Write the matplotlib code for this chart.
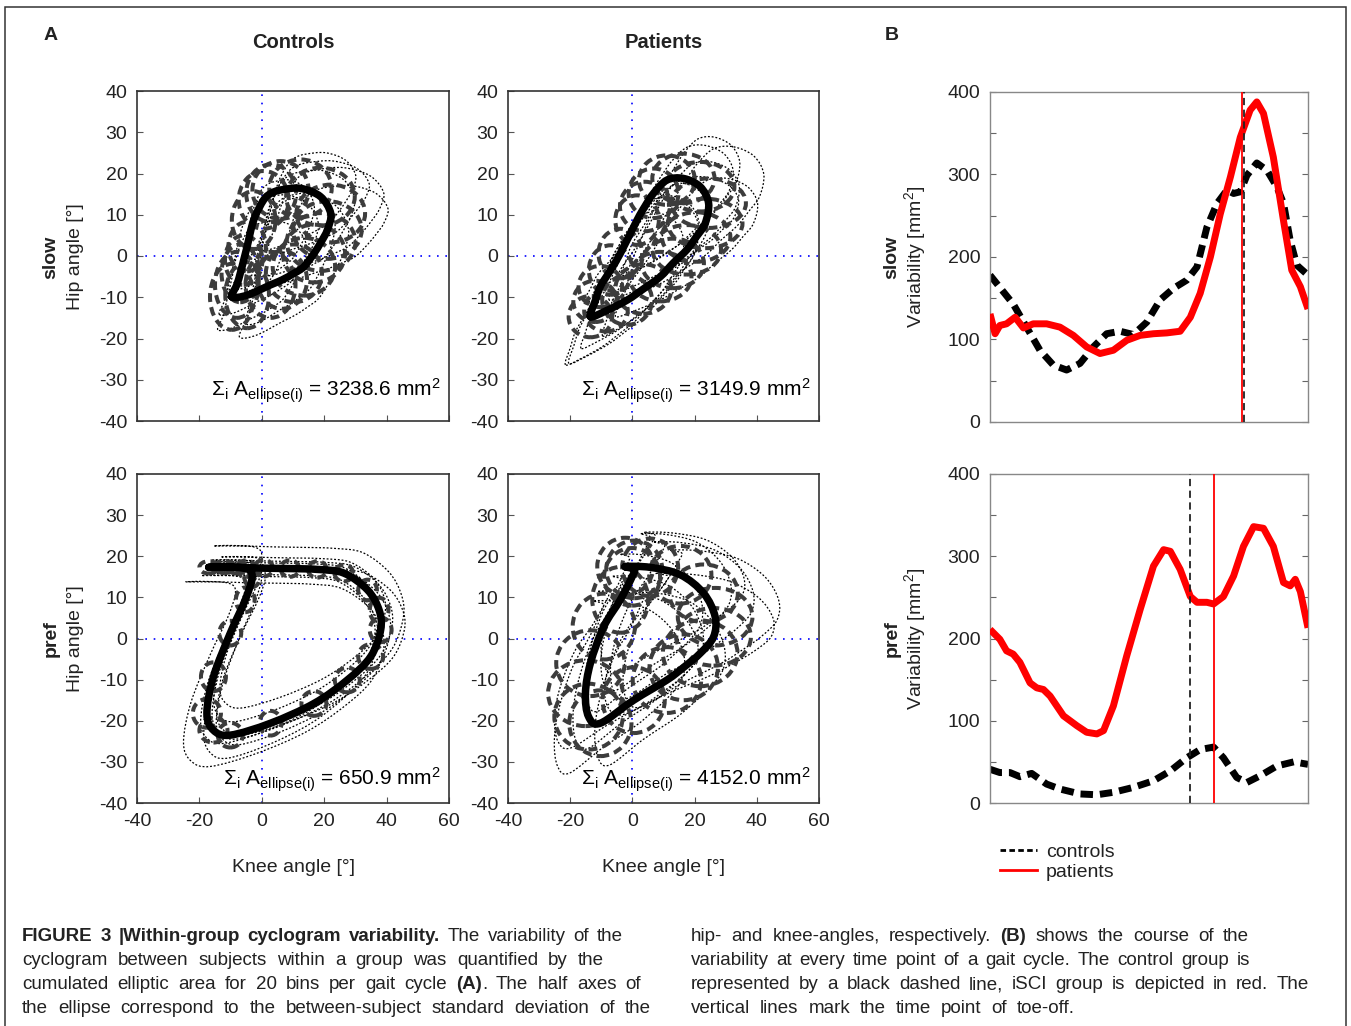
import numpy as np
import matplotlib
matplotlib.use("Agg")
import matplotlib.pyplot as plt
from matplotlib.path import Path
from matplotlib.patches import PathPatch, Ellipse, Rectangle
from matplotlib.lines import Line2D

plt.rcParams["font.family"] = ["Liberation Sans", "DejaVu Sans"]
plt.rcParams["mathtext.fontset"] = "custom"
plt.rcParams["mathtext.rm"] = "Liberation Sans"
plt.rcParams["mathtext.it"] = "Liberation Sans:italic"
plt.rcParams["mathtext.bf"] = "Liberation Sans:bold"
plt.rcParams["axes.unicode_minus"] = False

# ---------------- data ----------------
# mean cyclograms (knee, hip) in degrees, points along the loop (= ellipse centres)
cs_knee = [-9.6, -8.0, -6.9, -5.8, -4.7, -2.6, 0.6, 3.0, 6.0, 12.4, 18.8, 22.1, 21.0, 19.0,
           16.7, 13.5, 10.3, 6.5, 2.8, -4.7]
cs_hip = [-9.9, -7.0, -4.2, -1.0, 2.3, 8.7, 13.6, 15.2, 16.0, 16.4, 14.4, 10.3, 6.3, 3.4,
          0.6, -2.6, -4.2, -5.8, -7.0, -9.5]
cs_sd_knee = [7, 7, 6, 6, 6, 7, 8, 8, 9, 10, 11, 11, 11, 11, 10, 10, 9, 8, 8, 7]
cs_sd_hip = [8, 8, 7, 6, 6, 7, 7, 7, 7, 7, 7, 7, 7, 7, 7, 7, 7, 7, 8, 8]

ps_knee = [-13.5, -12.0, -10.3, -7.0, -3.9, 1.5, 4.0, 6.8, 11.1, 16.4, 21.8, 24.5, 23.4, 20.5,
           17.5, 13.0, 9.0, 3.5, -1.7, -8.5]
ps_hip = [-14.7, -11.0, -7.4, -3.4, 0.6, 8.7, 12.0, 15.2, 18.4, 18.8, 16.8, 12.8, 7.9, 4.6,
          1.5, -1.8, -5.0, -8.0, -10.7, -13.3]
ps_sd_knee = [7, 7, 7, 7, 7, 7, 8, 8, 9, 10, 11, 12, 12, 11, 11, 10, 10, 9, 8, 7]
ps_sd_hip = [5, 5, 5, 6, 6, 6, 6, 6, 6, 6, 6, 6, 6, 6, 6, 6, 6, 6, 6, 5]

cp_knee = [-17.0, -8.0, 0.6, 9.0, 17.8, 26.3, 33.9, 37.6, 38.1, 34.9, 27.4, 16.7, 2.8,
           -10.1, -15.5, -17.6, -15.5, -10.1, -5.3, -3.1, -5.0, -12.0]
cp_hip = [17.3, 17.3, 17.1, 17.0, 16.8, 15.9, 11.8, 6.9, 2.1, -4.4, -10.1, -15.8, -20.6,
          -23.5, -22.3, -18.2, -9.3, 1.3, 9.4, 15.0, 17.0, 17.4]
cp_sd_knee = [3, 3, 3, 3, 3, 3, 3, 3, 3.5, 4, 4, 4, 3.5, 4, 4.5, 4.5, 4, 3.5, 3, 2.5, 3, 3]
cp_sd_hip = [1.5, 1.5, 2, 2, 2, 2, 2.5, 3, 3, 3, 3, 3, 3, 3, 3, 3.5, 3.5, 3, 3, 2.5, 2, 1.5]

pp_knee = [-2.3, 5.7, 15.4, 22.9, 26.6, 26.1, 21.8, 16.5, 11.1, 0.4, -10.3, -14.1, -15.1,
           -13.5, -9.2, -3.9, -0.1, 0.6]
pp_hip = [17.5, 17.3, 15.5, 11.0, 5.3, 0.4, -3.6, -7.0, -10.1, -15.0, -20.6, -19.0, -13.3,
          -6.0, 2.9, 9.4, 15.0, 16.8]
pp_sd_knee = [9, 9, 10, 11, 12, 12, 12, 11, 11, 10, 10, 11, 12, 11, 10, 9, 9, 9]
pp_sd_hip = [7, 7, 7, 7, 7, 7, 8, 8, 8, 8, 8, 8, 8, 8, 8, 8, 7, 7]

# single subjects: shift (knee, hip) and scale (knee, hip) relative to the mean loop
cs_subj_dk = [6, 12, 3, -4, 9, -2, 15, 4, -6, 8]
cs_subj_dh = [3, 5, -4, -3, 8, 2, 2, -6, -8, 10]
cs_subj_sk = [1.1, 1.3, 0.9, 1.0, 1.2, 0.8, 1.2, 1.1, 0.9, 1.0]
cs_subj_sh = [1.1, 1.0, 1.2, 1.1, 0.9, 1.0, 0.9, 1.3, 1.0, 0.9]

ps_subj_dk = [8, 14, -3, 4, 10, -5, 2, 12, -8, 6]
ps_subj_dh = [4, 6, -6, 2, 10, -8, -3, 0, -10, 8]
ps_subj_sk = [1.1, 1.2, 1.0, 1.3, 1.0, 1.1, 0.9, 1.2, 1.0, 1.1]
ps_subj_sh = [1.0, 1.1, 1.1, 0.9, 1.0, 1.2, 1.1, 1.0, 1.1, 1.0]

cp_subj_dk = [2, 4, -2, 3, -4, 1, 5, -1, 3]
cp_subj_dh = [1, 3, -2, -1, -5, 2, 0, -3, 4]
cp_subj_sk = [1.05, 1.1, 1.0, 1.0, 1.15, 0.95, 1.08, 1.0, 0.95]
cp_subj_sh = [1.05, 1.15, 1.0, 1.05, 1.1, 0.95, 1.0, 1.1, 0.9]

pp_subj_dk = [10, 16, -4, 5, -8, 3, 12, -2, -10, 7]
pp_subj_dh = [6, 4, -4, 8, -6, -8, 0, 3, -10, 10]
pp_subj_sk = [1.1, 1.2, 1.0, 1.0, 1.1, 1.0, 1.3, 0.9, 1.0, 1.1]
pp_subj_sh = [1.0, 1.0, 1.1, 1.0, 1.0, 1.1, 0.9, 1.0, 1.1, 0.9]

areas = ["3238.6", "3149.9", "650.9", "4152.0"]

# variability over the gait cycle [% cycle, mm^2]
slow_ctrl_t = [0, 7.3, 11.5, 15.7, 19.9, 24.1, 28.3, 32.5, 36.7, 40.9, 45.1, 49.3, 53.5, 57.7,
               61.9, 65.1, 68.2, 71.4, 74.5, 76.6, 78.7, 80.8, 83.9, 87.1, 90.2, 92.3, 94.4,
               96.5, 100]
slow_ctrl_v = [178, 143, 115, 87, 69, 63, 71, 91, 107, 110, 106, 121, 148, 162, 172, 188, 236,
               265, 281, 277, 279, 299, 314, 305, 285, 265, 220, 190, 178]
slow_pat_t = [0, 1.6, 3.1, 5.2, 7.9, 10.5, 13.6, 17.8, 22.0, 26.2, 30.4, 34.6, 38.8, 43.0,
              47.2, 51.4, 55.6, 59.8, 63.0, 66.1, 69.3, 72.4, 75.6, 78.7, 81.8, 83.9, 86.0,
              89.1, 92.3, 94.9, 97.6, 100]
slow_pat_v = [131, 107, 117, 119, 127, 114, 119, 119, 115, 105, 91, 83, 87, 99, 105, 107, 108,
              110, 127, 156, 200, 252, 297, 345, 378, 388, 374, 321, 244, 184, 164, 137]
slow_toe_ctrl = 80.0
slow_toe_pat = 79.4

pref_ctrl_t = [0, 3.1, 6.3, 9.4, 13.1, 17.8, 22.0, 28.3, 33.6, 38.8, 45.1, 51.4, 56.7, 61.9,
               66.1, 70.3, 73.4, 77.6, 80.8, 84.9, 90.2, 95.5, 100]
pref_ctrl_v = [41, 37, 37, 32, 36, 23, 17, 11, 10, 13, 19, 27, 39, 55, 65, 68, 55, 31, 25, 33,
               45, 50, 47]
pref_pat_t = [0, 3.1, 5.2, 7.3, 9.4, 12.6, 14.7, 16.8, 18.9, 23.1, 27.3, 30.4, 33.6, 35.7, 38.8,
              43.0, 47.2, 51.4, 54.6, 56.7, 59.8, 63.0, 65.1, 68.2, 70.3, 73.4, 76.6, 79.7,
              82.9, 86.0, 89.1, 92.3, 94.4, 96.0, 97.6, 100]
pref_pat_v = [211, 199, 185, 181, 171, 146, 140, 138, 130, 106, 94, 86, 84, 88, 118, 179, 235,
              288, 308, 306, 284, 251, 244, 244, 242, 251, 276, 312, 336, 334, 312, 268, 264,
              272, 257, 213]
pref_toe_ctrl = 63.0
pref_toe_pat = 70.5

caption_left = [
    "**FIGURE** **3** **|Within-group** **cyclogram** **variability.** The variability of the",
    "cyclogram between subjects within a group was quantified by the",
    "cumulated elliptic area for 20 bins per gait cycle **(A)**. The half axes of",
    "the ellipse correspond to the between-subject standard deviation of the",
]
caption_right = [
    "hip- and knee-angles, respectively. **(B)** shows the course of the",
    "variability at every time point of a gait cycle. The control group is",
    "represented by a black dashed line, iSCI group is depicted in red. The",
    "vertical lines mark the time point of toe-off.",
]
caption_left_end = [623, 604, 641, 651]
caption_right_end = [1249, 1250, 1309, 1075]

# ---------------- figure ----------------
W, H = 1351, 1026
fig = plt.figure(figsize=(W / 100, H / 100), dpi=100)
TXT = "#222222"
CAP = 13.5


def px_axes(l, t, r, b):
    return fig.add_axes([l / W, 1 - b / H, (r - l) / W, (b - t) / H])


def fig_text(x, y, s, **kw):
    return fig.text(x / W, 1 - y / H, s, color=TXT, **kw)


def smooth_loop(x, y):
    # closed curve through the read points (Catmull-Rom drawn as cubic Bezier)
    p = np.column_stack([x, y]).astype(float)
    n = len(p)
    verts = [p[0]]
    codes = [Path.MOVETO]
    for i in range(n):
        p0, p1, p2, p3 = p[i - 1], p[i], p[(i + 1) % n], p[(i + 2) % n]
        verts += [p1 + (p2 - p0) / 6, p2 - (p3 - p1) / 6, p2]
        codes += [Path.CURVE4] * 3
    return Path(np.array(verts), codes)


def cyclogram(ax, knee, hip, sdk, sdh, dk, dh, sk, sh, area, bottom):
    ax.set_xlim(-40, 60)
    ax.set_ylim(-40, 40)
    ax.axvline(0, color="blue", lw=1.2, ls=(0, (1, 4)), zorder=1)
    ax.axhline(0, color="blue", lw=1.2, ls=(0, (1, 4)), zorder=1)
    base = smooth_loop(knee, hip)
    ck, ch = np.mean(knee), np.mean(hip)
    for i in range(len(dk)):
        v = base.vertices.copy()
        v[:, 0] = ck + (v[:, 0] - ck) * sk[i] + dk[i]
        v[:, 1] = ch + (v[:, 1] - ch) * sh[i] + dh[i]
        ax.add_patch(PathPatch(Path(v, base.codes), fill=False, ec="black", lw=0.9,
                               ls=(0, (1.5, 1.5)), zorder=2))
    for cx, cy, a, b in zip(knee, hip, sdk, sdh):
        ax.add_patch(Ellipse((cx, cy), 2 * a, 2 * b, fill=False, ec="#3c3c3c", lw=2.9,
                             ls=(0, (2.2, 1.3)), zorder=3))
    ax.add_patch(PathPatch(base, fill=False, ec="black", lw=5.4, capstyle="round",
                           joinstyle="round", zorder=4))
    ax.set_yticks(range(-40, 41, 10))
    ax.set_xticks(range(-40, 61, 20))
    ax.tick_params(direction="in", length=4, width=0.8, labelsize=14, labelcolor=TXT,
                   colors="#555555", pad=7)
    ax.tick_params(axis="x", labelbottom=bottom)
    for s in ax.spines.values():
        s.set_color("#333333")
        s.set_linewidth(1.2)
    ax.text(0.974, 0.075 if not bottom else 0.052,
            r"$\Sigma_\mathrm{i}$ A$_\mathrm{ellipse(i)}$ = " + area + r" mm$^\mathrm{2}$",
            transform=ax.transAxes, ha="right", va="baseline", fontsize=15, color="black")


def variability(ax, ct, cv, pt, pv, toe_c, toe_p):
    ax.plot(ct, cv, color="black", lw=5, ls=(0, (1.8, 1.0)), zorder=2)
    ax.plot(pt, pv, color="red", lw=5, solid_capstyle="butt", zorder=3)
    ax.axvline(toe_c, color="#222222", lw=1.3, ls=(0, (4, 2.5)), zorder=4)
    ax.axvline(toe_p, color="red", lw=1.3, zorder=4)
    ax.set_xlim(0, 100)
    ax.set_ylim(0, 400)
    ax.set_xticks([])
    ax.set_yticks(range(0, 401, 50))
    ax.set_yticklabels([str(v) if v % 100 == 0 else "" for v in range(0, 401, 50)])
    ax.tick_params(direction="in", length=4, width=0.8, labelsize=14, labelcolor=TXT,
                   colors="#666666", right=True, pad=7)
    for s in ax.spines.values():
        s.set_color("#888888")
        s.set_linewidth(1.0)


ax_cs = px_axes(137, 91, 449, 421)
ax_ps = px_axes(508, 91, 819, 421)
ax_cp = px_axes(137, 474, 449, 803)
ax_pp = px_axes(508, 474, 819, 803)
ax_bs = px_axes(990, 92, 1308, 422)
ax_bp = px_axes(990, 474, 1308, 803)

cyclogram(ax_cs, cs_knee, cs_hip, cs_sd_knee, cs_sd_hip, cs_subj_dk, cs_subj_dh,
          cs_subj_sk, cs_subj_sh, areas[0], False)
cyclogram(ax_ps, ps_knee, ps_hip, ps_sd_knee, ps_sd_hip, ps_subj_dk, ps_subj_dh,
          ps_subj_sk, ps_subj_sh, areas[1], False)
cyclogram(ax_cp, cp_knee, cp_hip, cp_sd_knee, cp_sd_hip, cp_subj_dk, cp_subj_dh,
          cp_subj_sk, cp_subj_sh, areas[2], True)
cyclogram(ax_pp, pp_knee, pp_hip, pp_sd_knee, pp_sd_hip, pp_subj_dk, pp_subj_dh,
          pp_subj_sk, pp_subj_sh, areas[3], True)

variability(ax_bs, slow_ctrl_t, slow_ctrl_v, slow_pat_t, slow_pat_v, slow_toe_ctrl, slow_toe_pat)
variability(ax_bp, pref_ctrl_t, pref_ctrl_v, pref_pat_t, pref_pat_v, pref_toe_ctrl, pref_toe_pat)

handles = [Line2D([], [], color="black", lw=2, ls=(0, (2, 1.2))),
           Line2D([], [], color="red", lw=2)]
ax_bp.legend(handles, ["controls", "patients"], loc="upper left",
             bbox_to_anchor=(1000 / W, 1 - 843 / H), bbox_transform=fig.transFigure,
             frameon=False, fontsize=14, handlelength=1.9, handletextpad=0.45,
             labelspacing=0.12, borderpad=0, borderaxespad=0, labelcolor=TXT)

# labels
fig_text(51, 35, "A", fontsize=14, weight="bold", ha="center", va="center")
fig_text(892, 35, "B", fontsize=14, weight="bold", ha="center", va="center")
fig_text(293, 42, "Controls", fontsize=14.5, weight="bold", ha="center", va="center")
fig_text(664, 42, "Patients", fontsize=14.5, weight="bold", ha="center", va="center")
fig_text(293, 868, "Knee angle [°]", fontsize=14, ha="center", va="center")
fig_text(664, 868, "Knee angle [°]", fontsize=14, ha="center", va="center")
for yc, name in [(257, "slow"), (639, "pref")]:
    fig_text(51, yc, name, fontsize=14, weight="bold", rotation=90, ha="center", va="center")
    fig_text(75, yc, "Hip angle [°]", fontsize=14, rotation=90, ha="center", va="center")
    fig_text(892, yc, name, fontsize=14, weight="bold", rotation=90, ha="center", va="center")
    fig_text(915, yc, r"Variability [mm$^\mathrm{2}$]", fontsize=14, rotation=90,
             ha="center", va="center")

# outer frame
fig.add_artist(Rectangle((5.5 / W, -0.01), (1345.7 - 5.5) / W, 1 - 6.7 / H + 0.01,
                         transform=fig.transFigure, fill=False, ec="#333333", lw=1.1))

# caption, justified line by line
renderer = fig.canvas.get_renderer()


def caption_line(line, x0, x1, y):
    items = []
    for word in line.split(" "):
        parts = word.split("**")
        items.append([(p, "bold" if k % 2 else "normal") for k, p in enumerate(parts) if p])
    widths = []
    for pieces in items:
        w = 0
        for p, wt in pieces:
            t = fig.text(0, 0, p, fontsize=CAP, fontweight=wt)
            w += t.get_window_extent(renderer).width
            t.remove()
        widths.append(w)
    gap = (x1 - x0 - sum(widths)) / (len(items) - 1)
    x = x0
    for pieces in items:
        for p, wt in pieces:
            t = fig_text(x, y, p, fontsize=CAP, fontweight=wt, ha="left", va="baseline")
            x += t.get_window_extent(renderer).width
        x += gap


for i, line in enumerate(caption_left):
    caption_line(line, 22, caption_left_end[i], 941 + 24 * i)
for i, line in enumerate(caption_right):
    caption_line(line, 691, caption_right_end[i], 941 + 24 * i)

fig.savefig("out.png", dpi=100)
